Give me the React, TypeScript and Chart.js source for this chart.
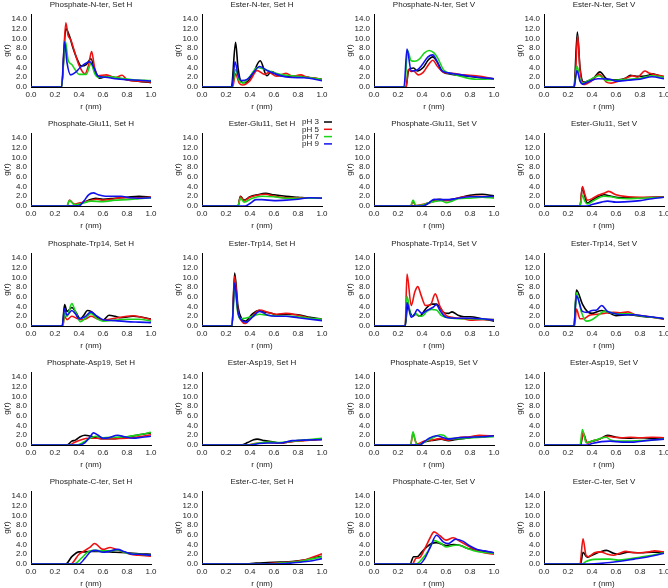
import React, { useEffect, useRef } from "react";
import { Chart, registerables } from "chart.js";

Chart.register(...registerables);

// ---------- data ----------
const SERIES_LABELS = ["pH 3", "pH 5", "pH 7", "pH 9"];
const SERIES_COLORS = ["#000000", "#ee1111", "#1ad41a", "#1111ee"];

const PANEL_TITLES = [
  "Phosphate-N-ter, Set H", "Ester-N-ter, Set H", "Phosphate-N-ter, Set V", "Ester-N-ter, Set V",
  "Phosphate-Glu11, Set H", "Ester-Glu11, Set H", "Phosphate-Glu11, Set V", "Ester-Glu11, Set V",
  "Phosphate-Trp14, Set H", "Ester-Trp14, Set H", "Phosphate-Trp14, Set V", "Ester-Trp14, Set V",
  "Phosphate-Asp19, Set H", "Ester-Asp19, Set H", "Phosphate-Asp19, Set V", "Ester-Asp19, Set V",
  "Phosphate-C-ter, Set H", "Ester-C-ter, Set H", "Phosphate-C-ter, Set V", "Ester-C-ter, Set V",
];

const Y_TICKS = [0, 2, 4, 6, 8, 10, 12, 14];

// Each series: flat list r, g(r), r, g(r), ...  (order: pH 3, pH 5, pH 7, pH 9)
const P_NTER_H = [
  [0,0, 0.255,0, 0.29,12.0, 0.32,10.5, 0.35,8.0, 0.38,6.0, 0.42,4.3, 0.46,4.6, 0.5,5.8, 0.53,3.5, 0.57,1.8, 0.64,2.2, 0.72,1.8, 0.85,1.3, 1.0,0.9],
  [0,0, 0.255,0, 0.29,13.2, 0.31,10.5, 0.33,9.8, 0.36,7.5, 0.40,4.5, 0.45,2.7, 0.48,4.5, 0.505,7.3, 0.53,4.0, 0.56,2.3, 0.63,2.5, 0.70,1.9, 0.76,2.4, 0.80,1.5, 0.9,1.2, 1.0,1.0],
  [0,0, 0.255,0, 0.285,9.5, 0.31,5.5, 0.34,4.6, 0.37,3.5, 0.40,2.6, 0.46,2.6, 0.50,4.8, 0.53,2.8, 0.56,2.0, 0.65,2.1, 0.75,1.8, 0.85,1.5, 1.0,1.3],
  [0,0, 0.255,0, 0.28,9.3, 0.30,5.0, 0.33,2.5, 0.37,3.0, 0.41,4.0, 0.45,4.8, 0.49,5.2, 0.52,4.2, 0.56,2.2, 0.62,2.0, 0.7,1.7, 0.8,1.5, 0.9,1.4, 1.0,1.2],
];
const E_NTER_H = [
  [0,0, 0.245,0, 0.28,9.2, 0.30,4.0, 0.33,1.0, 0.36,0.9, 0.42,2.5, 0.485,5.4, 0.54,2.3, 0.58,3.2, 0.64,2.3, 0.72,2.2, 0.8,2.2, 0.9,1.9, 1.0,1.6],
  [0,0, 0.255,0, 0.28,2.7, 0.31,0.8, 0.34,0.4, 0.40,1.3, 0.46,3.4, 0.52,2.6, 0.56,3.0, 0.62,2.2, 0.70,2.8, 0.76,2.2, 0.82,2.5, 0.88,2.0, 0.95,1.8, 1.0,1.5],
  [0,0, 0.25,0, 0.28,3.6, 0.31,1.3, 0.34,0.8, 0.40,2.2, 0.46,4.0, 0.50,3.8, 0.56,3.3, 0.65,2.6, 0.75,2.3, 0.9,1.9, 1.0,1.6],
  [0,0, 0.25,0, 0.275,5.2, 0.30,2.5, 0.33,1.3, 0.38,1.6, 0.43,3.0, 0.48,4.2, 0.55,3.3, 0.60,2.8, 0.72,2.0, 0.85,1.9, 1.0,1.3],
];
const P_NTER_V = [
  [0,0, 0.265,0, 0.29,3.6, 0.33,3.9, 0.36,3.3, 0.41,4.0, 0.45,5.5, 0.49,6.2, 0.53,5.0, 0.57,3.2, 0.65,2.6, 0.75,2.3, 0.85,2.0, 1.0,1.7],
  [0,0, 0.27,0, 0.285,3.6, 0.31,3.2, 0.33,3.3, 0.37,2.5, 0.41,3.0, 0.46,4.8, 0.49,5.5, 0.53,4.2, 0.58,3.0, 0.65,2.8, 0.75,2.5, 0.85,2.3, 0.95,1.9, 1.0,1.6],
  [0,0, 0.255,0, 0.28,7.5, 0.31,5.4, 0.34,5.3, 0.38,5.8, 0.42,7.0, 0.46,7.5, 0.50,7.0, 0.53,6.0, 0.58,3.5, 0.65,2.7, 0.75,2.0, 0.85,1.6, 0.9,1.6, 1.0,1.7],
  [0,0, 0.25,0, 0.275,7.8, 0.31,3.3, 0.36,3.5, 0.40,4.5, 0.45,6.2, 0.49,6.6, 0.52,5.5, 0.56,3.5, 0.62,2.9, 0.7,2.6, 0.8,2.2, 0.9,1.9, 1.0,1.7],
];
const E_NTER_V = [
  [0,0, 0.25,0, 0.278,11.3, 0.30,4.0, 0.33,1.0, 0.36,1.2, 0.42,2.0, 0.465,3.1, 0.52,1.7, 0.56,1.5, 0.62,1.5, 0.68,1.8, 0.72,2.4, 0.77,2.2, 0.82,2.2, 0.87,2.4, 0.90,2.7, 0.95,2.4, 1.0,2.0],
  [0,0, 0.255,0, 0.28,10.5, 0.30,3.5, 0.33,0.5, 0.40,1.3, 0.46,2.6, 0.52,1.0, 0.56,0.8, 0.62,1.2, 0.70,2.0, 0.74,2.3, 0.78,2.0, 0.84,3.3, 0.88,2.8, 0.93,2.5, 1.0,2.2],
  [0,0, 0.25,0, 0.275,4.3, 0.30,1.5, 0.32,0.8, 0.37,1.3, 0.46,2.3, 0.52,1.3, 0.6,1.4, 0.7,1.6, 0.8,1.8, 0.9,2.3, 1.0,2.0],
  [0,0, 0.25,0, 0.275,3.4, 0.30,1.2, 0.32,0.6, 0.36,1.0, 0.45,1.7, 0.55,1.6, 0.6,1.2, 0.7,1.4, 0.8,1.6, 0.9,2.1, 1.0,1.7],
];
const P_GLU_H = [
  [0,0, 0.36,0, 0.42,0.5, 0.48,1.2, 0.54,1.6, 0.6,1.4, 0.7,1.6, 0.8,1.8, 0.9,2.0, 1.0,1.8],
  [0,0, 0.3,0, 0.32,1.2, 0.36,0.4, 0.40,0.6, 0.48,1.0, 0.55,1.4, 0.6,1.2, 0.68,1.4, 0.75,1.7, 0.85,1.7, 1.0,1.8],
  [0,0, 0.3,0, 0.32,1.1, 0.36,0.3, 0.42,0.5, 0.5,1.0, 0.6,0.9, 0.7,1.2, 0.8,1.3, 0.9,1.5, 1.0,1.7],
  [0,0, 0.4,0, 0.44,1.0, 0.48,2.3, 0.52,2.7, 0.56,2.3, 0.62,2.0, 0.7,2.0, 0.75,2.0, 0.82,1.7, 0.9,1.6, 1.0,1.7],
];
const E_GLU_H = [
  [0,0, 0.3,0, 0.32,2.0, 0.35,1.2, 0.40,1.9, 0.46,2.3, 0.53,2.6, 0.6,2.3, 0.7,2.0, 0.8,1.8, 0.9,1.6, 1.0,1.6],
  [0,0, 0.3,0, 0.32,1.9, 0.35,1.1, 0.40,1.8, 0.46,2.2, 0.53,2.4, 0.6,2.0, 0.7,1.7, 0.8,1.7, 0.9,1.6, 1.0,1.6],
  [0,0, 0.3,0, 0.32,1.6, 0.35,0.8, 0.42,1.6, 0.5,2.0, 0.6,1.9, 0.7,1.6, 0.8,1.6, 1.0,1.6],
  [0,0, 0.36,0, 0.40,0.5, 0.45,1.3, 0.5,1.3, 0.6,1.1, 0.7,1.2, 0.8,1.4, 0.9,1.7, 1.0,1.6],
];
const P_GLU_V = [
  [0,0, 0.38,0, 0.45,0.5, 0.5,1.2, 0.55,1.4, 0.6,1.2, 0.7,1.6, 0.8,2.2, 0.9,2.4, 1.0,2.1],
  [0,0, 0.305,0, 0.325,0.8, 0.35,0.1, 0.40,0.3, 0.48,0.8, 0.55,1.2, 0.6,1.1, 0.66,1.4, 0.75,1.9, 0.85,2.0, 0.95,1.9, 1.0,1.8],
  [0,0, 0.305,0, 0.325,1.2, 0.35,0.05, 0.40,0.2, 0.45,0.6, 0.5,0.9, 0.56,1.1, 0.6,0.7, 0.65,1.0, 0.7,1.5, 0.8,1.6, 0.9,1.8, 1.0,1.6],
  [0,0, 0.40,0, 0.45,0.5, 0.5,1.4, 0.56,1.3, 0.62,1.3, 0.7,1.6, 0.8,1.9, 0.9,1.9, 1.0,2.0],
];
const E_GLU_V = [
  [0,0, 0.3,0, 0.32,3.8, 0.34,2.0, 0.36,0.6, 0.40,1.2, 0.45,1.9, 0.5,2.3, 0.56,2.0, 0.6,1.8, 0.7,1.7, 0.8,1.7, 0.9,1.8, 1.0,1.9],
  [0,0, 0.3,0, 0.32,4.0, 0.34,2.4, 0.36,1.2, 0.40,1.5, 0.45,2.2, 0.5,2.6, 0.54,3.0, 0.6,2.3, 0.7,1.9, 0.8,1.8, 0.9,1.8, 1.0,1.9],
  [0,0, 0.3,0, 0.32,2.2, 0.34,1.0, 0.36,0.4, 0.42,1.2, 0.5,2.0, 0.56,1.9, 0.62,1.6, 0.7,1.5, 0.8,1.6, 0.9,1.7, 1.0,1.8],
  [0,0, 0.36,0, 0.40,0.3, 0.48,0.8, 0.53,1.0, 0.6,0.8, 0.7,0.9, 0.8,1.1, 0.9,1.5, 1.0,1.8],
];
const P_TRP_H = [
  [0,0, 0.26,0, 0.28,4.4, 0.30,3.0, 0.34,3.8, 0.37,3.0, 0.41,1.5, 0.44,2.2, 0.47,3.2, 0.50,3.0, 0.56,1.6, 0.6,1.2, 0.65,2.2, 0.7,2.0, 0.75,1.7, 0.85,2.0, 0.9,1.9, 1.0,1.4],
  [0,0, 0.265,0, 0.28,2.0, 0.30,1.3, 0.34,2.0, 0.38,1.6, 0.42,1.3, 0.46,1.5, 0.5,2.0, 0.55,1.5, 0.6,1.2, 0.7,1.6, 0.8,2.0, 0.85,2.1, 0.92,1.8, 1.0,1.3],
  [0,0, 0.265,0, 0.28,2.6, 0.30,2.0, 0.34,4.6, 0.37,3.0, 0.41,0.9, 0.45,1.5, 0.5,2.6, 0.55,1.5, 0.6,1.0, 0.7,1.2, 0.8,1.4, 0.9,1.4, 1.0,1.0],
  [0,0, 0.26,0, 0.28,3.6, 0.30,2.2, 0.34,3.2, 0.37,2.5, 0.40,1.5, 0.45,1.9, 0.5,2.9, 0.54,2.2, 0.6,1.3, 0.7,1.1, 0.8,0.9, 0.9,0.8, 1.0,0.7],
];
const E_TRP_H = [
  [0,0, 0.25,0, 0.272,10.9, 0.30,4.0, 0.33,1.5, 0.36,1.0, 0.42,2.5, 0.47,3.2, 0.52,2.9, 0.58,2.6, 0.62,2.3, 0.7,2.4, 0.8,2.3, 0.9,1.8, 1.0,1.4],
  [0,0, 0.25,0, 0.272,10.2, 0.30,3.0, 0.33,1.0, 0.36,0.5, 0.42,2.0, 0.48,3.3, 0.55,2.8, 0.62,2.4, 0.7,2.6, 0.8,2.2, 0.9,1.6, 1.0,1.4],
  [0,0, 0.25,0, 0.272,7.5, 0.30,2.5, 0.32,1.5, 0.36,1.6, 0.42,2.0, 0.48,2.4, 0.55,2.2, 0.62,2.1, 0.7,2.0, 0.8,1.9, 0.9,1.6, 1.0,1.4],
  [0,0, 0.25,0, 0.272,8.8, 0.30,2.8, 0.33,1.2, 0.37,0.8, 0.42,1.8, 0.48,3.0, 0.55,2.2, 0.62,2.0, 0.7,2.0, 0.8,1.7, 0.9,1.4, 1.0,1.1],
];
const P_TRP_V = [
  [0,0, 0.26,0, 0.28,4.0, 0.32,2.0, 0.35,2.4, 0.38,2.0, 0.43,3.5, 0.48,4.5, 0.52,4.5, 0.58,2.8, 0.62,2.6, 0.65,2.9, 0.7,2.2, 0.75,1.9, 0.8,1.9, 0.9,1.5, 1.0,1.0],
  [0,0, 0.26,0, 0.275,10.7, 0.31,4.2, 0.34,7.0, 0.365,8.1, 0.39,6.5, 0.43,4.2, 0.47,4.3, 0.51,6.6, 0.55,4.0, 0.6,2.2, 0.65,1.8, 0.7,1.6, 0.75,1.5, 0.8,1.2, 0.9,1.3, 1.0,1.3],
  [0,0, 0.26,0, 0.275,6.1, 0.31,2.0, 0.35,2.5, 0.38,2.0, 0.40,2.0, 0.44,3.0, 0.48,3.4, 0.52,3.3, 0.56,2.2, 0.6,1.8, 0.7,1.5, 0.8,1.5, 0.9,1.4, 1.0,1.3],
  [0,0, 0.26,0, 0.275,4.8, 0.31,1.8, 0.34,2.5, 0.36,3.4, 0.40,2.6, 0.44,3.2, 0.49,3.8, 0.52,4.4, 0.55,3.2, 0.6,1.8, 0.7,1.6, 0.8,1.6, 0.9,1.5, 1.0,1.2],
];
const E_TRP_V = [
  [0,0, 0.25,0, 0.27,7.4, 0.32,4.5, 0.36,3.0, 0.40,2.6, 0.45,3.0, 0.48,3.2, 0.55,2.6, 0.6,2.1, 0.7,2.3, 0.75,2.2, 0.8,2.0, 0.9,1.8, 1.0,1.5],
  [0,0, 0.255,0, 0.27,3.5, 0.30,1.5, 0.33,1.5, 0.38,2.2, 0.44,2.4, 0.5,2.6, 0.58,2.8, 0.64,2.7, 0.7,2.9, 0.76,2.3, 0.85,2.0, 0.9,1.8, 1.0,1.4],
  [0,0, 0.25,0, 0.27,6.8, 0.31,3.0, 0.35,1.0, 0.40,1.3, 0.45,2.2, 0.5,3.0, 0.55,2.8, 0.6,2.5, 0.7,2.5, 0.8,2.1, 0.9,1.8, 1.0,1.5],
  [0,0, 0.25,0, 0.27,6.2, 0.32,3.0, 0.36,2.8, 0.40,3.2, 0.44,3.3, 0.48,4.2, 0.53,3.0, 0.58,2.6, 0.65,2.3, 0.75,2.3, 0.85,2.0, 0.95,1.7, 1.0,1.5],
];
const P_ASP_H = [
  [0,0, 0.30,0, 0.34,0.8, 0.37,1.0, 0.41,1.7, 0.45,2.0, 0.5,1.8, 0.56,1.4, 0.6,1.3, 0.7,1.3, 0.8,1.6, 0.9,2.1, 1.0,2.5],
  [0,0, 0.32,0, 0.36,0.5, 0.42,1.1, 0.48,1.4, 0.55,1.4, 0.6,1.3, 0.7,1.3, 0.8,1.4, 0.9,1.7, 1.0,2.1],
  [0,0, 0.38,0, 0.44,0.6, 0.5,1.5, 0.54,1.8, 0.6,1.5, 0.7,1.6, 0.8,1.7, 0.9,2.1, 1.0,2.6],
  [0,0, 0.40,0, 0.45,0.5, 0.49,1.6, 0.52,2.5, 0.56,2.0, 0.6,1.4, 0.65,1.5, 0.72,2.0, 0.78,1.7, 0.85,1.4, 0.9,1.5, 1.0,1.8],
];
const E_ASP_H = [
  [0,0, 0.33,0, 0.38,0.5, 0.43,1.1, 0.46,1.2, 0.52,0.9, 0.6,0.6, 0.66,0.4, 0.72,0.6, 0.8,0.9, 0.9,1.0, 1.0,1.2],
  [0,0, 0.38,0, 0.44,0.3, 0.55,0.5, 0.65,0.4, 0.75,0.7, 0.85,0.9, 1.0,1.2],
  [0,0, 0.38,0, 0.45,0.3, 0.55,0.6, 0.65,0.5, 0.75,0.8, 0.85,1.0, 1.0,1.4],
  [0,0, 0.40,0, 0.48,0.3, 0.55,0.4, 0.65,0.4, 0.75,0.9, 0.85,1.0, 1.0,1.1],
];
const P_ASP_V = [
  [0,0, 0.38,0, 0.42,0.6, 0.5,1.0, 0.56,1.2, 0.62,0.9, 0.7,1.2, 0.8,1.5, 0.9,1.7, 1.0,1.9],
  [0,0, 0.305,0, 0.325,2.4, 0.345,0.8, 0.36,0.2, 0.42,0.8, 0.48,1.0, 0.55,1.3, 0.62,1.0, 0.7,1.5, 0.8,1.7, 0.88,2.0, 1.0,1.8],
  [0,0, 0.305,0, 0.325,2.7, 0.345,0.8, 0.36,0.0, 0.40,0.3, 0.45,1.0, 0.5,1.6, 0.55,2.1, 0.58,2.0, 0.62,1.3, 0.7,1.3, 0.8,1.5, 0.9,1.6, 1.0,1.7],
  [0,0, 0.38,0, 0.40,0.3, 0.46,1.4, 0.52,1.9, 0.58,1.5, 0.62,1.2, 0.7,1.5, 0.8,1.6, 0.9,1.7, 1.0,1.9],
];
const E_ASP_V = [
  [0,0, 0.305,0, 0.325,2.3, 0.36,0.5, 0.42,0.9, 0.47,1.3, 0.53,2.0, 0.6,1.6, 0.7,1.4, 0.8,1.5, 0.9,1.4, 1.0,1.4],
  [0,0, 0.305,0, 0.325,2.6, 0.36,0.4, 0.40,0.8, 0.46,1.2, 0.53,1.8, 0.58,1.6, 0.65,1.5, 0.72,1.6, 0.8,1.5, 0.9,1.6, 1.0,1.5],
  [0,0, 0.30,0, 0.32,3.2, 0.35,0.5, 0.40,0.8, 0.45,1.2, 0.52,1.6, 0.55,1.1, 0.6,0.8, 0.7,0.8, 0.8,0.9, 0.9,1.0, 1.0,1.3],
  [0,0, 0.36,0, 0.40,0.3, 0.48,0.7, 0.55,0.8, 0.65,0.6, 0.75,0.6, 0.85,0.9, 1.0,1.2],
];
const P_CTER_H = [
  [0,0, 0.29,0, 0.34,1.5, 0.40,2.5, 0.45,2.5, 0.5,2.6, 0.6,2.6, 0.7,2.4, 0.8,2.3, 0.9,2.1, 1.0,2.0],
  [0,0, 0.33,0, 0.40,2.0, 0.45,2.8, 0.49,3.4, 0.53,4.2, 0.6,3.0, 0.66,3.4, 0.72,2.9, 0.78,2.4, 0.85,1.9, 0.9,1.8, 1.0,1.6],
  [0,0, 0.36,0, 0.42,1.2, 0.47,2.4, 0.52,2.8, 0.6,2.7, 0.66,2.7, 0.72,2.9, 0.8,2.2, 0.9,2.0, 1.0,1.8],
  [0,0, 0.40,0, 0.45,1.2, 0.50,2.6, 0.54,2.8, 0.6,2.4, 0.65,2.6, 0.72,3.0, 0.78,2.5, 0.85,2.0, 0.9,2.0, 1.0,1.8],
];
const E_CTER_H = [
  [0,0, 0.35,0, 0.45,0.2, 0.55,0.3, 0.65,0.4, 0.75,0.5, 0.85,0.8, 0.92,1.2, 1.0,1.6],
  [0,0, 0.5,0, 0.6,0.2, 0.75,0.4, 0.85,0.8, 0.92,1.4, 1.0,2.1],
  [0,0, 0.55,0, 0.65,0.2, 0.78,0.4, 0.87,0.8, 1.0,1.5],
  [0,0, 0.6,0, 0.75,0.2, 0.87,0.5, 1.0,1.1],
];
const P_CTER_V = [
  [0,0, 0.30,0, 0.33,1.5, 0.36,1.5, 0.40,2.5, 0.44,3.5, 0.48,4.2, 0.52,4.4, 0.6,3.8, 0.66,4.0, 0.72,3.8, 0.78,3.2, 0.85,2.9, 0.9,2.7, 1.0,2.3],
  [0,0, 0.32,0, 0.35,1.2, 0.38,1.3, 0.42,3.0, 0.47,5.5, 0.5,6.6, 0.55,5.8, 0.6,4.9, 0.66,5.4, 0.72,4.6, 0.8,3.5, 0.85,2.8, 0.9,2.4, 1.0,2.0],
  [0,0, 0.35,0, 0.40,1.0, 0.46,3.0, 0.5,4.8, 0.56,4.2, 0.6,3.5, 0.66,3.8, 0.7,3.9, 0.78,3.2, 0.85,2.6, 0.9,2.4, 1.0,2.2],
  [0,0, 0.38,0, 0.42,1.0, 0.47,3.5, 0.52,5.9, 0.58,4.5, 0.62,4.2, 0.68,5.1, 0.74,4.7, 0.8,3.7, 0.86,3.0, 0.92,2.7, 1.0,2.3],
];
const E_CTER_V = [
  [0,0, 0.305,0, 0.325,2.4, 0.36,1.4, 0.40,1.8, 0.47,2.5, 0.52,2.8, 0.58,2.2, 0.62,2.0, 0.7,2.4, 0.8,2.3, 0.9,2.4, 1.0,2.4],
  [0,0, 0.30,0, 0.325,5.2, 0.35,1.8, 0.37,1.5, 0.42,2.3, 0.47,2.5, 0.53,2.0, 0.58,1.8, 0.63,2.2, 0.68,2.6, 0.75,2.3, 0.8,2.3, 0.88,2.5, 0.92,2.7, 1.0,2.5],
  [0,0, 0.32,0, 0.35,0.5, 0.40,0.9, 0.5,1.0, 0.55,1.0, 0.62,0.8, 0.7,1.0, 0.8,1.4, 0.9,1.8, 1.0,2.3],
  [0,0, 0.35,0, 0.45,0.1, 0.55,0.3, 0.65,0.6, 0.75,1.0, 0.85,1.4, 0.95,1.9, 1.0,2.2],
];

const PANEL_DATA = [
  P_NTER_H, E_NTER_H, P_NTER_V, E_NTER_V,
  P_GLU_H, E_GLU_H, P_GLU_V, E_GLU_V,
  P_TRP_H, E_TRP_H, P_TRP_V, E_TRP_V,
  P_ASP_H, E_ASP_H, P_ASP_V, E_ASP_V,
  P_CTER_H, E_CTER_H, P_CTER_V, E_CTER_V,
];

const LEGEND_PANEL = 5;

// ---------- layout ----------
const COL_LEFT = [0, 171, 343, 513];
const ROW_TOP = [0, 119, 239, 358, 477];
const CANVAS_W = 166;
const CANVAS_H = 119;
const FONT_FAMILY = "'Liberation Sans', Arial, sans-serif";
const TEXT_COLOR = "#222";

function toPoints(flat: number[]) {
  const pts: { x: number; y: number }[] = [];
  for (let i = 0; i < flat.length; i += 2) pts.push({ x: flat[i], y: flat[i + 1] });
  return pts;
}

const legendPlugin = {
  id: "panelLegend",
  afterDraw(chart: any) {
    const ctx = chart.ctx;
    ctx.save();
    ctx.font = `8px ${FONT_FAMILY}`;
    ctx.textAlign = "right";
    ctx.textBaseline = "middle";
    chart.data.datasets.forEach((ds: any, i: number) => {
      const y = 3 + 7.3 * i;
      ctx.fillStyle = TEXT_COLOR;
      ctx.fillText(ds.label, 148, y);
      ctx.strokeStyle = ds.borderColor;
      ctx.lineWidth = 1.5;
      ctx.beginPath();
      ctx.moveTo(153, y);
      ctx.lineTo(161, y);
      ctx.stroke();
    });
    ctx.restore();
  },
};

function makeChart(canvas: HTMLCanvasElement, idx: number) {
  const tickFont = { family: FONT_FAMILY, size: 8, lineHeight: 1.0 };
  const titleFont = { family: FONT_FAMILY, size: 8, lineHeight: 1.25, weight: "normal" as const };
  return new Chart(canvas, {
    type: "line",
    data: {
      datasets: PANEL_DATA[idx].map((flat, i) => ({
        label: SERIES_LABELS[i],
        data: toPoints(flat),
        borderColor: SERIES_COLORS[i],
        backgroundColor: SERIES_COLORS[i],
        borderWidth: 1.6,
        pointRadius: 0,
        cubicInterpolationMode: "monotone" as const,
        fill: false,
        order: 3 - i,
      })),
    },
    options: {
      responsive: false,
      animation: false,
      devicePixelRatio: 1,
      layout: { padding: { left: 0, right: 15, top: 0, bottom: 0 } },
      plugins: {
        legend: { display: false },
        tooltip: { enabled: false },
        title: {
          display: true,
          text: PANEL_TITLES[idx],
          fullSize: false,
          color: TEXT_COLOR,
          font: titleFont,
          padding: { top: 0, bottom: 4 },
        },
      },
      scales: {
        x: {
          type: "linear",
          min: 0,
          max: 1,
          bounds: "data",
          grid: { display: false, drawTicks: false },
          border: { display: true, color: "#000", width: 1 },
          ticks: {
            stepSize: 0.2,
            autoSkip: false,
            maxRotation: 0,
            padding: 4,
            color: TEXT_COLOR,
            font: tickFont,
            callback: (v: any) => Number(v).toFixed(1),
          },
          title: {
            display: true,
            text: "r (nm)",
            color: TEXT_COLOR,
            font: titleFont,
            padding: { top: 0, bottom: 7 },
          },
          afterFit: (s: any) => {
            s.height = 32;
          },
        },
        y: {
          type: "linear",
          min: 0,
          max: 15,
          bounds: "data",
          grid: { display: false, drawTicks: false },
          border: { display: true, color: "#000", width: 1 },
          afterBuildTicks: (s: any) => {
            s.ticks = Y_TICKS.map((v) => ({ value: v }));
          },
          ticks: {
            autoSkip: false,
            padding: 4,
            color: TEXT_COLOR,
            font: tickFont,
            callback: (v: any) => Number(v).toFixed(1),
          },
          title: {
            display: true,
            text: "g(r)",
            color: TEXT_COLOR,
            font: titleFont,
            padding: { top: 2, bottom: 0 },
          },
          afterFit: (s: any) => {
            s.width = 31;
          },
        },
      },
    },
    plugins: idx === LEGEND_PANEL ? [legendPlugin] : [],
  } as any);
}

export default function App() {
  const refs = useRef<(HTMLCanvasElement | null)[]>([]);
  useEffect(() => {
    const charts = refs.current.map((c, i) => (c ? makeChart(c, i) : null));
    return () => {
      charts.forEach((ch) => ch && ch.destroy());
    };
  }, []);
  return (
    <div
      style={{
        position: "absolute",
        left: 0,
        top: 0,
        width: 668,
        height: 588,
        overflow: "hidden",
        background: "#fff",
      }}
    >
      {PANEL_TITLES.map((t, i) => (
        <canvas
          key={t}
          ref={(el) => {
            refs.current[i] = el;
          }}
          width={CANVAS_W}
          height={CANVAS_H}
          style={{
            position: "absolute",
            left: COL_LEFT[i % 4],
            top: ROW_TOP[Math.floor(i / 4)],
            width: CANVAS_W,
            height: CANVAS_H,
          }}
        />
      ))}
    </div>
  );
}
